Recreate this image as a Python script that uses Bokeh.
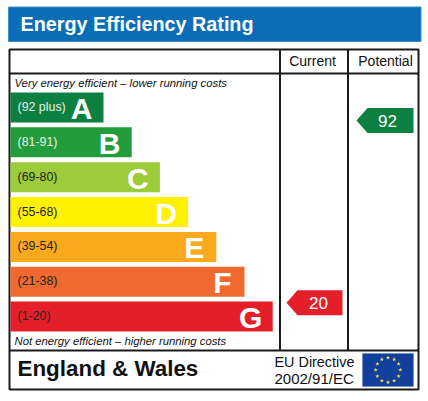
import math
from bokeh.plotting import figure
from bokeh.models import Range1d
from bokeh.core.properties import value
from bokeh.embed import file_html
from bokeh.resources import INLINE

title_text = "Energy Efficiency Rating"
column_labels = ["Current", "Potential"]
bands = ["A", "B", "C", "D", "E", "F", "G"]
score_ranges = ["(92 plus)", "(81-91)", "(69-80)", "(55-68)", "(39-54)", "(21-38)", "(1-20)"]
band_colors = ["#0C8040", "#239C3C", "#9CCB3C", "#FFF200", "#FBAA1E", "#EE6A2E", "#E51F2A"]
range_text_colors = ["#E8F3EA", "#E8F3EA", "#222222", "#222222", "#222222", "#222222", "#222222"]
current_score = 20
potential_score = 92
top_caption = "Very energy efficient \u2013 lower running costs"
bottom_caption = "Not energy efficient \u2013 higher running costs"
region_label = "England & Wales"
directive_lines = ["EU Directive", "2002/91/EC"]

# Layout (page pixels)
W, H = 428, 401
FONT = "Liberation Sans"

p = figure(width=W, height=H, output_backend="svg", toolbar_location=None,
           x_range=Range1d(0, W), y_range=Range1d(H, 0),
           min_border=0, outline_line_color=None, margin=(0, 0, 0, 0))
p.axis.visible = False
p.grid.visible = False
p.background_fill_color = "white"
p.border_fill_color = "white"


def label(x, y, t, size, color="#111111", align="left", style="normal"):
    p.text([x], [y], text=[t], text_font=value(FONT), text_font_size=f"{size}px", text_color=color,
           text_align=align, text_baseline="middle", text_font_style=style)


# Title
p.quad(left=[8], right=[420.5], top=[6.5], bottom=[41], fill_color="#0A6EB6", line_color="#3E8FC8", line_width=1)
label(20, 23.5, title_text, 19.8, "white", style="bold")

# Frame
FRAME = dict(line_color="#1A1A1A", line_width=2)
p.quad(left=[9], right=[418], top=[49], bottom=[389], fill_color="white", **FRAME)
p.line([9, 418], [73, 73], **FRAME)
p.line([9, 418], [350, 350], **FRAME)
p.line([279.5, 279.5], [49, 350], **FRAME)
p.line([347.5, 347.5], [49, 350], **FRAME)

label(312, 60.5, column_labels[0], 14, align="center")
label(385, 60.5, column_labels[1], 14, align="center")
label(14, 82, top_caption, 11.3, style="italic")
label(14, 340, bottom_caption, 11.3, style="italic")

# Bands
for i, b in enumerate(bands):
    top = 92 + i * 34.85
    bot = top + 30
    right = 103 + i * 28.2
    p.quad(left=[10], right=[right], top=[top], bottom=[bot], fill_color=band_colors[i], line_color=None)
    label(17, top + 14.5, score_ranges[i], 12.4, range_text_colors[i])
    label(right - 22, top + 16, b, 30, "white", align="center", style="bold")


def score_y(s):
    return 120 + (potential_score - s) * 2.53


def arrow(x_tip, x_neck, x_right, score, color, text_x):
    y = score_y(score)
    hh = 12.5
    p.patch([x_tip, x_neck, x_right, x_right, x_neck], [y, y - hh, y - hh, y + hh, y + hh],
            fill_color=color, line_color=None)
    label(text_x, y + 0.5, str(score), 17, "white", align="center")


arrow(356, 367, 413, potential_score, band_colors[0], 387)
arrow(286, 297, 342, current_score, band_colors[6], 318)

# Footer
label(17, 368, region_label, 22.4, "#111111", style="bold")
label(274, 361, directive_lines[0], 14.4)
label(274, 377.5, directive_lines[1], 15.0)

# Flag
p.quad(left=[362], right=[413], top=[353], bottom=[386], fill_color="#123F9B", line_color="#5F83C4", line_width=0.5)
cx, cy, r = 387.5, 369.5, 12.3
sx = [cx + r * math.sin(k * math.pi / 6) for k in range(12)]
sy = [cy - r * math.cos(k * math.pi / 6) for k in range(12)]
p.scatter(sx, sy, marker="star", size=4.5, fill_color="#F2E64A", line_color=None)

open("out.html", "w").write(file_html(p, INLINE))
